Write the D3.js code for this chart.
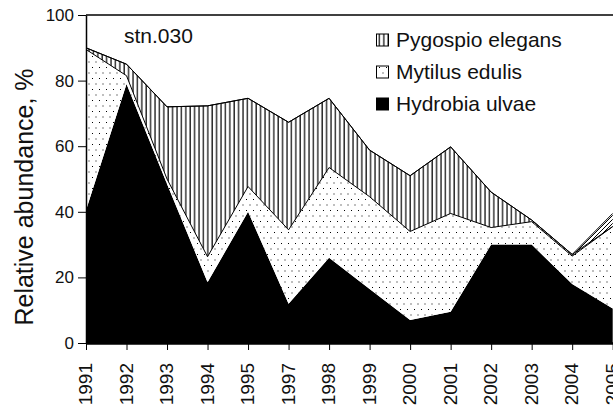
<!DOCTYPE html>
<html>
<head>
<meta charset="utf-8">
<style>
  body { margin: 0; background: #fff; }
  svg { display: block; font-family: "Liberation Sans", Arial, sans-serif; }
</style>
</head>
<body>
<svg id="chart" width="613" height="410"></svg>
<script src="https://cdnjs.cloudflare.com/ajax/libs/d3/7.8.5/d3.min.js"></script>
<script>
// station 030, relative abundance (%) per year
var years    = [1991, 1992, 1993, 1994, 1995, 1997, 1998, 1999, 2000, 2001, 2002, 2003, 2004, 2005];
var hydrobia = [40.5, 79, 48.5, 18.5, 40, 12, 26, 16.5, 7, 9.5, 30, 30, 18, 10.5];
var mytilus  = [49, 2.5, 1.5, 7.8, 7.7, 22.5, 27.5, 28.1, 27, 30, 5.2, 7, 8.5, 25];
var pygospio = [0.5, 3.5, 22, 46, 26.9, 32.8, 21.1, 14.2, 17, 20.3, 10.8, 0.5, 0.5, 0];
var other    = [0, 0, 0, 0, 0, 0, 0, 0, 0, 0, 0, 0, 0, 4];
var yTicks   = [0, 20, 40, 60, 80, 100];
var legendNames = ["Pygospio elegans", "Mytilus edulis", "Hydrobia ulvae"];

(function() {
var svg = d3.select("#chart");
var mLeft = 86, mRight = 612.7, mTop = 15, mBottom = 343;

var x = d3.scalePoint().domain(years).range([mLeft, mRight]);
var y = d3.scaleLinear().domain([0, 100]).range([mBottom, mTop]);

// patterns
var defs = svg.append("defs");
var vl = defs.append("pattern").attr("id", "vlines").attr("patternUnits", "userSpaceOnUse")
  .attr("width", 4.4).attr("height", 10);
vl.append("rect").attr("width", 4.4).attr("height", 10).attr("fill", "#fff");
vl.append("line").attr("x1", 1).attr("x2", 1).attr("y1", 0).attr("y2", 10)
  .attr("stroke", "#000").attr("stroke-width", 1.2);

var dots = defs.append("pattern").attr("id", "dots").attr("patternUnits", "userSpaceOnUse")
  .attr("width", 7).attr("height", 11);
dots.append("rect").attr("width", 7).attr("height", 11).attr("fill", "#fff");
dots.append("rect").attr("x", 1).attr("y", 1).attr("width", 1).attr("height", 1).attr("fill", "#000");
dots.append("rect").attr("x", 4.5).attr("y", 6.5).attr("width", 1).attr("height", 1).attr("fill", "#000");

var dg = defs.append("pattern").attr("id", "diag").attr("patternUnits", "userSpaceOnUse")
  .attr("width", 4).attr("height", 4);
dg.append("rect").attr("width", 4).attr("height", 4).attr("fill", "#fff");
dg.append("path").attr("d", "M-1,5 L5,-1").attr("stroke", "#000").attr("stroke-width", 1);

defs.append("clipPath").attr("id", "plot")
  .append("rect").attr("x", mLeft).attr("y", mTop).attr("width", 613 - mLeft).attr("height", mBottom - mTop);

var rows = years.map(function(yr, i) {
  return { year: yr, hydrobia: hydrobia[i], mytilus: mytilus[i], pygospio: pygospio[i], other: other[i] };
});
var keys = ["hydrobia", "mytilus", "pygospio", "other"];
var fills = { hydrobia: "#000", mytilus: "url(#dots)", pygospio: "url(#vlines)", other: "url(#diag)" };
var series = d3.stack().keys(keys)(rows);

var area = d3.area()
  .x(function(d) { return x(d.data.year); })
  .y0(function(d) { return y(d[0]); })
  .y1(function(d) { return y(d[1]); });
var topLine = d3.line()
  .x(function(d) { return x(d.data.year); })
  .y(function(d) { return y(d[1]); });

var g = svg.append("g").attr("clip-path", "url(#plot)");
series.forEach(function(s) {
  g.append("path").attr("d", area(s)).attr("fill", fills[s.key]);
});
series.forEach(function(s) {
  if (s.key == "hydrobia") return;
  g.append("path").attr("d", topLine(s)).attr("fill", "none")
    .attr("stroke", "#000").attr("stroke-width", 1);
});

// frame
svg.append("line").attr("x1", mLeft).attr("x2", 613).attr("y1", mTop).attr("y2", mTop)
  .attr("stroke", "#000").attr("stroke-width", 1.5);

// axes
var yAxis = svg.append("g").attr("transform", "translate(" + mLeft + ",0)")
  .call(d3.axisLeft(y).tickValues(yTicks).tickSize(8).tickPadding(4).tickSizeOuter(0));
yAxis.selectAll("text").attr("font-size", 17).attr("fill", "#111").attr("font-family", null);
yAxis.select(".domain").attr("stroke-width", 1.5);

var xAxis = svg.append("g").attr("transform", "translate(0," + mBottom + ")")
  .call(d3.axisBottom(x).tickSize(7).tickSizeOuter(0));
xAxis.select(".domain").attr("stroke-width", 2.5);
xAxis.selectAll("text")
  .attr("font-size", 19).attr("fill", "#111").attr("font-family", null)
  .attr("transform", "rotate(-90)")
  .attr("text-anchor", "end")
  .attr("x", -20).attr("y", 0).attr("dy", "0.3em");

// y title
svg.append("text")
  .attr("transform", "translate(33,197) rotate(-90)")
  .attr("text-anchor", "middle")
  .attr("font-size", 25).attr("fill", "#111")
  .text("Relative abundance, %");

// station label
svg.append("rect").attr("x", 121).attr("y", 23).attr("width", 82).attr("height", 29).attr("fill", "#fff");
svg.append("text").attr("x", 124).attr("y", 43).attr("font-size", 21).attr("fill", "#111").text("stn.030");

// legend
var lg = svg.append("g");
lg.append("rect").attr("x", 372).attr("y", 22).attr("width", 212).attr("height", 104).attr("fill", "#fff");
var swatch = ["url(#vlines)", "url(#dots)", "#000"];
legendNames.forEach(function(name, i) {
  var yy = 34 + i * 32;
  lg.append("rect").attr("x", 376.5).attr("y", yy).attr("width", 12).attr("height", 12)
    .attr("fill", swatch[i]).attr("stroke", "#000").attr("stroke-width", 1);
  lg.append("text").attr("x", 396).attr("y", yy + 13).attr("font-size", 21).attr("fill", "#111").text(name);
});
})();
</script>
</body>
</html>
